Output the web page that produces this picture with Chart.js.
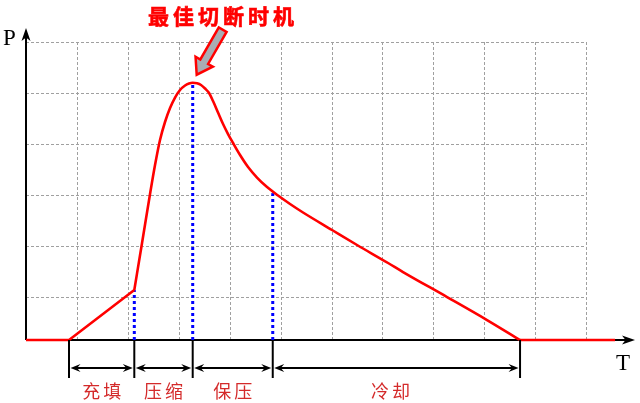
<!DOCTYPE html>
<html><head><meta charset="utf-8">
<script src="https://cdn.jsdelivr.net/npm/chart.js@4/dist/chart.umd.min.js"></script>
<style>html,body{margin:0;padding:0;background:#fff;overflow:hidden}canvas{display:block}</style>
</head><body>
<canvas id="c" width="640" height="403"></canvas>
<script>
// ---- data ----
const titleText = '最佳切断时机';
const axisLabelX = 'T';
const axisLabelY = 'P';
const rampT = [0, 0.845, 2.127];
const rampP = [0, 0, 0.98];
const curveT = [2.127, 2.279, 2.436, 2.534, 2.632, 2.730, 2.829, 2.927, 3.025, 3.124, 3.202, 3.274,
                3.359, 3.437, 3.516, 3.595, 3.673, 3.771, 3.870, 3.968, 4.066, 4.204, 4.361, 4.537, 4.734, 4.950,
                5.186, 5.441, 6.011, 6.502, 7.111, 7.405, 8.270, 9.055, 9.703];
const curveP = [0.980, 1.902, 2.863, 3.431, 3.922, 4.275, 4.549, 4.755, 4.902, 4.990, 5.029, 5.045,
                5.033, 5.000, 4.931, 4.843, 4.686, 4.461, 4.235, 4.039, 3.863, 3.627, 3.392, 3.186, 3.000, 2.833,
                2.667, 2.500, 2.157, 1.863, 1.510, 1.333, 0.843, 0.392, 0];
const tailT = [9.703, 11.57];
const tailP = [0, 0];
const markT = [2.127, 3.274, 4.846];
const markP = [0.98, 5.045, 2.88];
const phaseBounds = [0.845, 2.127, 3.274, 4.846, 9.703];
const phaseNames = ['充填', '压缩', '保压', '冷却'];
const gridT = [1, 2, 3, 4, 5, 6, 7, 8, 9, 10, 11];
const gridP = [0.85, 1.85, 2.85, 3.85, 4.85, 5.85];
const peakT = 3.274, peakP = 5.045;

const RED = '#ff0000';
const BLUE = '#0000ff';

function pts(xs, ys) { return xs.map((x, i) => ({x: x, y: ys[i]})); }

function stealth(ctx, tx, ty, dx, dy, len, hw, notch) {
  const L = Math.hypot(dx, dy); const ux = dx / L, uy = dy / L; const nx = -uy, ny = ux;
  ctx.beginPath();
  ctx.moveTo(tx, ty);
  ctx.lineTo(tx - ux * len + nx * hw, ty - uy * len + ny * hw);
  ctx.lineTo(tx - ux * (len - notch), ty - uy * (len - notch));
  ctx.lineTo(tx - ux * len - nx * hw, ty - uy * len - ny * hw);
  ctx.closePath();
  ctx.fill();
}

const backgroundPlugin = {
  id: 'bgGrid',
  beforeDatasetsDraw(chart) {
    const ctx = chart.ctx, xs = chart.scales.x, ys = chart.scales.y;
    const x0 = xs.getPixelForValue(0), y0 = ys.getPixelForValue(0);
    const xg = xs.getPixelForValue(gridT[gridT.length - 1]);
    const yg = ys.getPixelForValue(gridP[gridP.length - 1]);
    ctx.save();
    ctx.strokeStyle = '#a0a0a0'; ctx.lineWidth = 1; ctx.setLineDash([3, 2]);
    gridT.forEach(t => { const px = Math.round(xs.getPixelForValue(t)) + 0.5; ctx.beginPath(); ctx.moveTo(px, y0); ctx.lineTo(px, yg); ctx.stroke(); });
    gridP.forEach(p => { const py = Math.round(ys.getPixelForValue(p)) + 0.5; ctx.beginPath(); ctx.moveTo(x0, py); ctx.lineTo(xg, py); ctx.stroke(); });
    ctx.setLineDash([]);
    const ca = chart.chartArea;
    ctx.strokeStyle = '#000'; ctx.fillStyle = '#000'; ctx.lineWidth = 2;
    ctx.beginPath(); ctx.moveTo(x0, y0); ctx.lineTo(ca.right - 6, y0); ctx.stroke();
    ctx.beginPath(); ctx.moveTo(x0, y0); ctx.lineTo(x0, ca.top + 6); ctx.stroke();
    stealth(ctx, ca.right - 2, y0, 1, 0, 13, 4.5, 3.5);
    stealth(ctx, x0, ca.top, 0, -1, 13, 4.5, 3.5);
    ctx.restore();
  },
  afterDraw(chart) {
    const ctx = chart.ctx, xs = chart.scales.x, ys = chart.scales.y;
    const y0 = ys.getPixelForValue(0);
    ctx.save();
    ctx.strokeStyle = '#000'; ctx.fillStyle = '#000'; ctx.lineWidth = 2;
    const bx = phaseBounds.map(t => xs.getPixelForValue(t));
    bx.forEach(px => { ctx.beginPath(); ctx.moveTo(px, y0); ctx.lineTo(px, y0 + 38); ctx.stroke(); });
    const ay = y0 + 28;
    for (let i = 0; i < bx.length - 1; i++) {
      const a = bx[i] + 1.5, b = bx[i + 1] - 1.5;
      ctx.beginPath(); ctx.moveTo(a + 4, ay); ctx.lineTo(b - 4, ay); ctx.stroke();
      stealth(ctx, a, ay, -1, 0, 10, 4, 3.5);
      stealth(ctx, b, ay, 1, 0, 10, 4, 3.5);
    }
    ctx.fillStyle = '#d42a2a';
    ctx.font = '18px "Noto Sans CJK SC"';
    ctx.textAlign = 'center'; ctx.textBaseline = 'middle';
    ctx.letterSpacing = '3px';
    phaseNames.forEach((n, i) => {
      let cx = (bx[i] + bx[i + 1]) / 2 + 1.5;
      if (i === phaseNames.length - 1) cx -= 6;
      ctx.fillText(n, cx, y0 + 51);
    });
    ctx.letterSpacing = '0px';
    ctx.fillStyle = '#000';
    ctx.font = '23px "Liberation Serif"';
    ctx.textAlign = 'left'; ctx.textBaseline = 'alphabetic';
    ctx.fillText(axisLabelY, 3, 45);
    ctx.fillText(axisLabelX, 616, 370);
    ctx.fillStyle = RED; ctx.strokeStyle = RED; ctx.lineWidth = 0.6;
    ctx.font = 'bold 21px "Noto Sans CJK SC"';
    ctx.textAlign = 'center'; ctx.textBaseline = 'middle';
    ctx.letterSpacing = '4px';
    ctx.fillText(titleText, 223, 16);
    ctx.strokeText(titleText, 223, 16);
    ctx.letterSpacing = '0px';
    const px = xs.getPixelForValue(peakT) + 4, py = ys.getPixelForValue(peakP) - 8;
    const tx = px + 26, ty = py - 45;
    const L = Math.hypot(px - tx, py - ty), ux = (px - tx) / L, uy = (py - ty) / L, nx = -uy, ny = ux;
    const sw = 4.5, hw = 10, hl = 15;
    ctx.beginPath();
    ctx.moveTo(tx + nx * sw, ty + ny * sw);
    ctx.lineTo(px - ux * hl + nx * sw, py - uy * hl + ny * sw);
    ctx.lineTo(px - ux * hl + nx * hw, py - uy * hl + ny * hw);
    ctx.lineTo(px, py);
    ctx.lineTo(px - ux * hl - nx * hw, py - uy * hl - ny * hw);
    ctx.lineTo(px - ux * hl - nx * sw, py - uy * hl - ny * sw);
    ctx.lineTo(tx - nx * sw, ty - ny * sw);
    ctx.closePath();
    ctx.fillStyle = '#a9adb3'; ctx.fill();
    ctx.strokeStyle = RED; ctx.lineWidth = 2.5; ctx.lineJoin = 'miter'; ctx.stroke();
    ctx.restore();
  }
};

const redLine = { borderColor: RED, borderWidth: 2.6, pointRadius: 0, showLine: true, clip: false, fill: false };
const blueLine = { borderColor: BLUE, borderWidth: 3, borderDash: [3, 3], borderCapStyle: 'butt', pointRadius: 0, showLine: true, clip: false, fill: false, tension: 0 };

new Chart(document.getElementById('c'), {
  type: 'scatter',
  data: {
    datasets: [
      Object.assign({ data: pts(rampT, rampP), tension: 0 }, redLine),
      Object.assign({ data: pts(curveT, curveP), cubicInterpolationMode: 'monotone' }, redLine),
      Object.assign({ data: pts(tailT, tailP), tension: 0 }, redLine),
      ...markT.map((t, i) => Object.assign({ data: [{x: t, y: 0}, {x: t, y: markP[i]}] }, blueLine))
    ]
  },
  options: {
    responsive: false,
    animation: false,
    events: [],
    layout: { padding: { left: 26, top: 28, right: 3, bottom: 63 } },
    plugins: { legend: { display: false }, tooltip: { enabled: false }, title: { display: false } },
    scales: {
      x: { type: 'linear', min: 0, max: 12, display: false },
      y: { type: 'linear', min: 0, max: 6.118, display: false }
    }
  },
  plugins: [backgroundPlugin]
});
</script>
</body></html>
